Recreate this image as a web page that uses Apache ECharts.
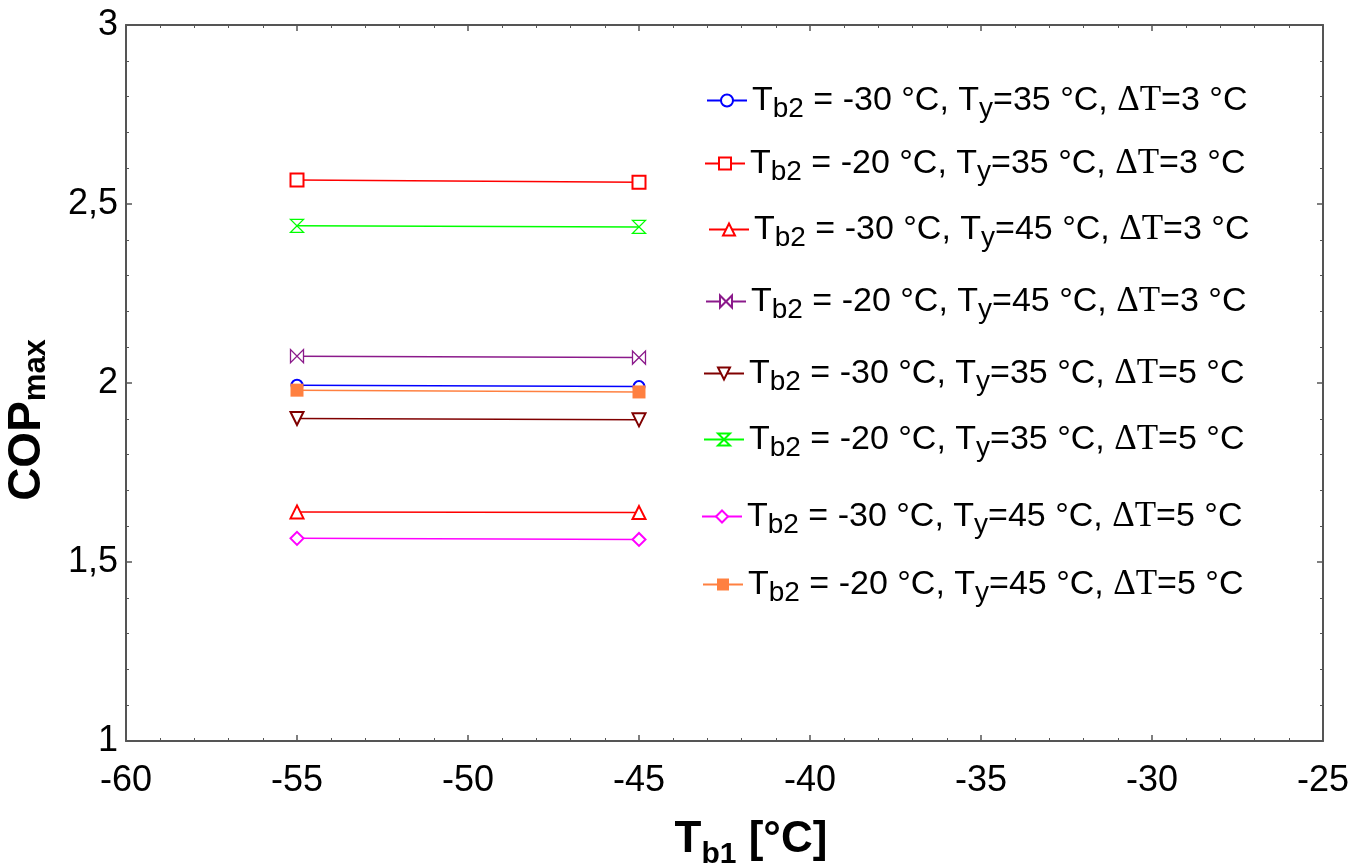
<!DOCTYPE html>
<html>
<head>
<meta charset="utf-8">
<script src="https://cdn.jsdelivr.net/npm/echarts@6/dist/echarts.min.js"></script>
<style>html,body{margin:0;padding:0;background:#fff;}#c{width:1364px;height:866px;}</style>
</head>
<body>
<div id="c"></div>
<script>
// ---- data ----
var xValues = [-55, -45];
var tb2 = [-30, -20, -30, -20, -30, -20, -30, -20];
var ty = [35, 35, 45, 45, 35, 35, 45, 45];
var dT = [3, 3, 3, 3, 5, 5, 5, 5];
var s1 = [1.994, 1.990];   // blue circle
var s2 = [2.567, 2.561];   // red square
var s3 = [1.640, 1.638];   // red triangle
var s4 = [2.075, 2.071];   // purple bowtie
var s5 = [1.901, 1.897];   // brown down triangle
var s6 = [2.439, 2.436];   // green hourglass
var s7 = [1.566, 1.563];   // magenta diamond
var s8 = [1.980, 1.975];   // orange filled square
var seriesValues = [s1, s2, s3, s4, s5, s6, s7, s8];
var xTicks = [-60, -55, -50, -45, -40, -35, -30, -25];
var yTicks = [1, 1.5, 2, 2.5, 3];

// ---- styles ----
var colors = ['#0000ff', '#ff0000', '#ff0000', '#8b1a8b', '#800000', '#00ff00', '#ff00ff', '#ff8040'];
var hourglass = 'path://M0,0L10,0L0,10L10,10Z';
var bowtie = 'path://M0,0L0,10L10,0L10,10Z';
var symbols = ['emptyCircle', 'emptyRect', 'emptyTriangle', bowtie, 'emptyTriangle', hourglass, 'emptyDiamond', 'rect'];
var rotates = [0, 0, 0, 0, 180, 0, 0, 0];
var sizes = [11, 13, 13, 13, 13, 13, 13, 13];
var legendLeft = [706, 704, 708, 705, 703, 703, 701, 702];
var legendCenter = [100, 163, 229, 301, 373, 439, 516, 584];

var names = tb2.map(function (t, i) {
  return 'Tb2 = ' + t + ' °C, Ty=' + ty[i] + ' °C, ΔT=' + dT[i] + ' °C';
});

function richName(name) {
  var i = names.indexOf(name);
  return '{t|T}{s|b2}{t| = ' + tb2[i] + ' °C, T}{s|y}{t|=' + ty[i] + ' °C, }{g|ΔT}{t|=' + dT[i] + ' °C}';
}

var sans = 'Liberation Sans, Arial, sans-serif';
var serif = 'Liberation Serif, Times New Roman, serif';
var legendRich = {
  t: { fontFamily: sans, fontSize: 34, color: '#000', lineHeight: 46 },
  s: { fontFamily: sans, fontSize: 28, color: '#000', lineHeight: 16, verticalAlign: 'bottom' },
  g: { fontFamily: serif, fontSize: 35, color: '#000', lineHeight: 46 }
};

var series = seriesValues.map(function (vals, i) {
  var isPath = symbols[i].indexOf('path://') === 0;
  var item = isPath
    ? { color: '#fff', borderColor: colors[i], borderWidth: 1.3 }
    : (symbols[i] === 'rect' ? { color: colors[i] } : { color: colors[i], borderWidth: 1.3 });
  return {
    name: names[i],
    type: 'line',
    data: xValues.map(function (x, k) { return [x, vals[k]]; }),
    symbol: symbols[i],
    symbolSize: sizes[i],
    symbolRotate: rotates[i],
    showAllSymbol: true,
    lineStyle: { color: colors[i], width: 1.5 },
    itemStyle: item,
    emphasis: { disabled: true },
    animation: false,
    z: 2 + i
  };
});

var legends = names.map(function (n, i) {
  return {
    data: [n],
    left: legendLeft[i],
    top: legendCenter[i] - 17,
    padding: 0,
    itemWidth: 40,
    itemHeight: 15,
    selectedMode: false,
    formatter: richName,
    textStyle: { rich: legendRich, fontFamily: sans, fontSize: 34, color: '#000' }
  };
});

var axisColor = '#555';
function xAxisDef(pos, labels) {
  return {
    type: 'value', position: pos, min: xTicks[0], max: xTicks[xTicks.length - 1], interval: 5,
    axisLine: { show: true, onZero: false, lineStyle: { color: axisColor, width: 2 } },
    axisTick: { show: true, inside: true, length: 6, lineStyle: { color: axisColor, width: 1.5 } },
    minorTick: { show: true, splitNumber: 5, length: 3, lineStyle: { color: axisColor, width: 1 } },
    splitLine: { show: false },
    axisLabel: { show: labels, fontSize: 36, fontFamily: sans, color: '#000', margin: 22 }
  };
}
function yAxisDef(pos, labels) {
  return {
    type: 'value', position: pos, min: yTicks[0], max: yTicks[yTicks.length - 1], interval: 0.5,
    axisLine: { show: true, onZero: false, lineStyle: { color: axisColor, width: 2 } },
    axisTick: { show: true, inside: true, length: 6, lineStyle: { color: axisColor, width: 1.5 } },
    minorTick: { show: true, splitNumber: 5, length: 3, lineStyle: { color: axisColor, width: 1 } },
    splitLine: { show: false },
    axisLabel: {
      show: labels, fontSize: 36, fontFamily: sans, color: '#000', margin: 8,
      formatter: function (v) { return String(v).replace('.', ','); }
    }
  };
}

var chart = echarts.init(document.getElementById('c'), null, { renderer: 'canvas' });
chart.setOption({
  backgroundColor: '#fff',
  animation: false,
  grid: { left: 126, top: 25, right: 41, bottom: 125, containLabel: false },
  xAxis: [xAxisDef('bottom', true), xAxisDef('top', false)],
  yAxis: [yAxisDef('left', true), yAxisDef('right', false)],
  legend: legends,
  series: series,
  graphic: [
    {
      type: 'text', x: 751, y: 840, silent: true,
      style: {
        text: '{a|T}{b|b1}{a| [°C]}',
        align: 'center', verticalAlign: 'middle',
        rich: {
          a: { fontFamily: sans, fontWeight: 'bold', fontSize: 44, lineHeight: 60, fill: '#000', color: '#000' },
          b: { fontFamily: sans, fontWeight: 'bold', fontSize: 30, lineHeight: 21, verticalAlign: 'bottom', fill: '#000', color: '#000' }
        }
      }
    },
    {
      type: 'text', x: 27, y: 420, rotation: Math.PI / 2, silent: true,
      style: {
        text: '{a|COP}{b|max}',
        align: 'center', verticalAlign: 'middle',
        rich: {
          a: { fontFamily: sans, fontWeight: 'bold', fontSize: 46, lineHeight: 50, fill: '#000', color: '#000' },
          b: { fontFamily: sans, fontWeight: 'bold', fontSize: 31, lineHeight: 24, verticalAlign: 'bottom', fill: '#000', color: '#000' }
        }
      }
    }
  ]
});
</script>
</body>
</html>
